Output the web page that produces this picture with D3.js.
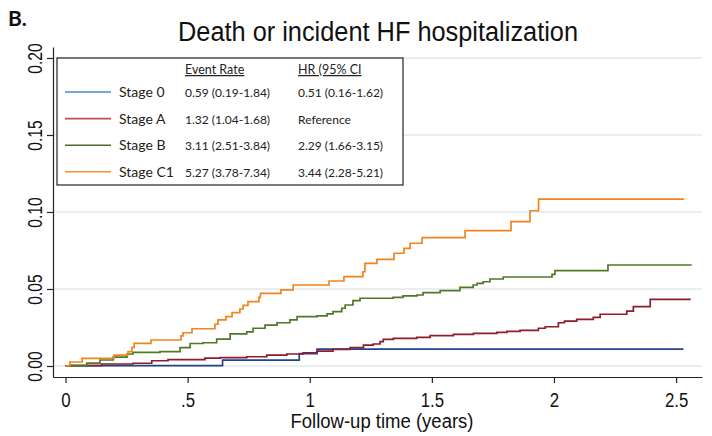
<!DOCTYPE html>
<html>
<head>
<meta charset="utf-8">
<script src="https://cdn.jsdelivr.net/npm/d3@7/dist/d3.min.js"></script>
<style>
  html, body { margin: 0; padding: 0; background: #fff; }
  svg { display: block; }
</style>
</head>
<body>
<svg id="chart" width="712" height="436"></svg>
<script>
// ---------- Data ----------
const stages = ["Stage 0", "Stage A", "Stage B", "Stage C1"];
const eventRates = ["0.59 (0.19-1.84)", "1.32 (1.04-1.68)", "3.11 (2.51-3.84)", "5.27 (3.78-7.34)"];
const hazardRatios = ["0.51 (0.16-1.62)", "Reference", "2.29 (1.66-3.15)", "3.44 (2.28-5.21)"];
const xTickValues = [0, 0.5, 1, 1.5, 2, 2.5];
const xTickLabels = ["0", ".5", "1", "1.5", "2", "2.5"];
const yTickValues = [0, 0.05, 0.10, 0.15, 0.20];
const yTickLabels = ["0.00", "0.05", "0.10", "0.15", "0.20"];

const stage0Time = [0, 0.018, 0.643, 0.957, 1.030, 2.530];
const stage0Risk = [0, 0.0003, 0.0038, 0.0080, 0.0110, 0.0110];

const stageATime = [0, 0.018, 0.148, 0.276, 0.353, 0.420, 0.571, 0.633, 0.742, 0.824,
  0.906, 0.973, 1.029, 1.095, 1.165, 1.220, 1.260, 1.288, 1.301, 1.342,
  1.438, 1.493, 1.588, 1.670, 1.766, 1.807, 1.861, 1.936, 1.964, 2.018,
  2.043, 2.093, 2.161, 2.189, 2.298, 2.325, 2.394, 2.560];
const stageARisk = [0, 0.0002, 0.0013, 0.0018, 0.0034, 0.0042, 0.0051, 0.0054, 0.0060, 0.0071,
  0.0078, 0.0086, 0.0097, 0.0108, 0.0119, 0.0136, 0.0143, 0.0158, 0.0173, 0.0180,
  0.0186, 0.0197, 0.0206, 0.0212, 0.0219, 0.0225, 0.0231, 0.0245, 0.0255, 0.0281,
  0.0292, 0.0303, 0.0316, 0.0336, 0.0357, 0.0385, 0.0433, 0.0433];

const stageBTime = [0, 0.018, 0.087, 0.141, 0.195, 0.252, 0.276, 0.387, 0.469, 0.510,
  0.563, 0.619, 0.674, 0.742, 0.768, 0.817, 0.866, 0.919, 0.948, 1.030,
  1.071, 1.095, 1.131, 1.145, 1.177, 1.206, 1.341, 1.382, 1.439, 1.464,
  1.534, 1.615, 1.669, 1.685, 1.710, 1.738, 1.792, 1.992, 2.004, 2.221, 2.564];
const stageBRisk = [0, 0.0003, 0.0019, 0.0039, 0.0058, 0.0078, 0.0088, 0.0093, 0.0119, 0.0146,
  0.0151, 0.0175, 0.0208, 0.0221, 0.0245, 0.0266, 0.0281, 0.0299, 0.0320, 0.0325,
  0.0338, 0.0353, 0.0375, 0.0396, 0.0424, 0.0440, 0.0446, 0.0455, 0.0461, 0.0476,
  0.0489, 0.0511, 0.0526, 0.0537, 0.0547, 0.0565, 0.0578, 0.0595, 0.0619, 0.0656, 0.0656];

const stageC1Time = [0, 0.018, 0.068, 0.199, 0.256, 0.272, 0.281, 0.350, 0.473, 0.481,
  0.518, 0.612, 0.624, 0.657, 0.682, 0.714, 0.727, 0.747, 0.792, 0.798,
  0.882, 0.932, 1.079, 1.140, 1.218, 1.226, 1.275, 1.345, 1.386, 1.411,
  1.460, 1.636, 1.824, 1.902, 1.937, 2.533];
const stageC1Risk = [0, 0.0026, 0.0050, 0.0071, 0.0093, 0.0121, 0.0147, 0.0169, 0.0195, 0.0216,
  0.0242, 0.0271, 0.0299, 0.0320, 0.0346, 0.0370, 0.0394, 0.0418, 0.0446, 0.0472,
  0.0494, 0.0526, 0.0552, 0.0580, 0.0612, 0.0667, 0.0693, 0.0732, 0.0764, 0.0797,
  0.0833, 0.0879, 0.0938, 0.1008, 0.1084, 0.1084];

const seriesTimes = [stage0Time, stageATime, stageBTime, stageC1Time];
const seriesRisks = [stage0Risk, stageARisk, stageBRisk, stageC1Risk];
const lineColors = ["#22438a", "#8c1c2e", "#4e7a27", "#f0851f"];
const legendColors = ["#4f86d4", "#c0504d", "#4f6b2c", "#f39032"];

// ---------- Layout ----------
const svg = d3.select("#chart");
const plotLeft = 53, plotRight = 702, plotTop = 47, plotBottom = 377;

const x = d3.scaleLinear().domain([-0.0512, 2.606]).range([plotLeft, plotRight]);
const y = d3.scaleLinear().domain([-0.00714, 0.20714]).range([plotBottom, plotTop]);

const tickFont = "'Liberation Sans', Arial, Helvetica, sans-serif";

// narrow a text element horizontally (the reference uses a condensed face)
function condense(sel, factor) {
  sel.each(function () {
    const w = this.getComputedTextLength();
    d3.select(this).attr("textLength", w * factor).attr("lengthAdjust", "spacingAndGlyphs");
  });
}

// gridlines
svg.append("g").selectAll("line").data(yTickValues).join("line")
  .attr("x1", plotLeft).attr("x2", plotRight)
  .attr("y1", d => y(d)).attr("y2", d => y(d))
  .attr("stroke", "#dfeaea").attr("stroke-width", 1.5);

// curves
const line = d3.line().curve(d3.curveStepAfter).x(d => x(d[0])).y(d => y(d[1]));
seriesTimes.forEach((times, i) => {
  const pts = times.map((t, j) => [t, seriesRisks[i][j]]);
  svg.append("path").datum(pts)
    .attr("d", line)
    .attr("fill", "none")
    .attr("stroke", lineColors[i])
    .attr("stroke-width", 1.7);
});

// axes
const xAxis = svg.append("g").attr("transform", `translate(0,${plotBottom})`)
  .call(d3.axisBottom(x).tickValues(xTickValues).tickFormat((d, i) => xTickLabels[i])
    .tickSizeInner(6).tickSizeOuter(0).tickPadding(10));
xAxis.select(".domain").attr("stroke", "#222").attr("stroke-width", 1.2);
xAxis.selectAll(".tick line").attr("stroke", "#222").attr("stroke-width", 1.2);
xAxis.selectAll(".tick text").attr("font-family", tickFont).attr("font-size", 20).attr("fill", "#111")
  .call(condense, 0.84);

const yAxis = svg.append("g").attr("transform", `translate(${plotLeft},0)`)
  .call(d3.axisLeft(y).tickValues(yTickValues).tickFormat((d, i) => yTickLabels[i])
    .tickSizeInner(6).tickSizeOuter(0).tickPadding(6));
yAxis.select(".domain").attr("stroke", "#222").attr("stroke-width", 1.2);
yAxis.selectAll(".tick line").attr("stroke", "#222").attr("stroke-width", 1.2);
yAxis.selectAll(".tick text")
  .attr("font-family", tickFont).attr("font-size", 20).attr("fill", "#111")
  .attr("text-anchor", "middle").attr("dy", 0).attr("x", 0)
  .attr("transform", "translate(-11,0) rotate(-90)")
  .call(condense, 0.78);

// axis title
svg.append("text").attr("x", 382).attr("y", 428).attr("text-anchor", "middle")
  .attr("font-family", tickFont).attr("font-size", 20).attr("fill", "#111")
  .attr("textLength", 183).attr("lengthAdjust", "spacingAndGlyphs")
  .text("Follow-up time (years)");

// title
svg.append("text").attr("x", 378).attr("y", 41).attr("text-anchor", "middle")
  .attr("font-family", tickFont).attr("font-size", 27).attr("fill", "#111")
  .attr("textLength", 400).attr("lengthAdjust", "spacingAndGlyphs")
  .text("Death or incident HF hospitalization");

// panel label
svg.append("text").attr("x", 8).attr("y", 26)
  .attr("font-family", "Lato, 'Open Sans', sans-serif").attr("font-weight", "bold")
  .attr("font-size", 21).attr("fill", "#111").text("B.");

// legend
const lg = svg.append("g");
lg.append("rect").attr("x", 57).attr("y", 58).attr("width", 346).attr("height", 127)
  .attr("fill", "#fff").attr("stroke", "#222").attr("stroke-width", 1.2);
const legFont = "Lato, 'Open Sans', sans-serif";
const headers = [["Event Rate", 185], ["HR (95% CI", 298]];
headers.forEach(([t, hx]) => {
  lg.append("text").attr("x", hx).attr("y", 74)
    .attr("font-family", legFont).attr("font-size", 12.5).attr("fill", "#222")
    .attr("text-decoration", "underline").text(t);
});
stages.forEach((s, i) => {
  const ry = 97 + i * 26.6;
  lg.append("line").attr("x1", 65).attr("x2", 111).attr("y1", ry - 5).attr("y2", ry - 5)
    .attr("stroke", legendColors[i]).attr("stroke-width", 1.6);
  lg.append("text").attr("x", 119).attr("y", ry)
    .attr("font-family", legFont).attr("font-size", 14).attr("fill", "#222").text(s);
  lg.append("text").attr("x", 185).attr("y", ry)
    .attr("font-family", legFont).attr("font-size", 12).attr("fill", "#222").text(eventRates[i]);
  lg.append("text").attr("x", 298).attr("y", ry)
    .attr("font-family", legFont).attr("font-size", 12).attr("fill", "#222").text(hazardRatios[i]);
});
</script>
</body>
</html>
